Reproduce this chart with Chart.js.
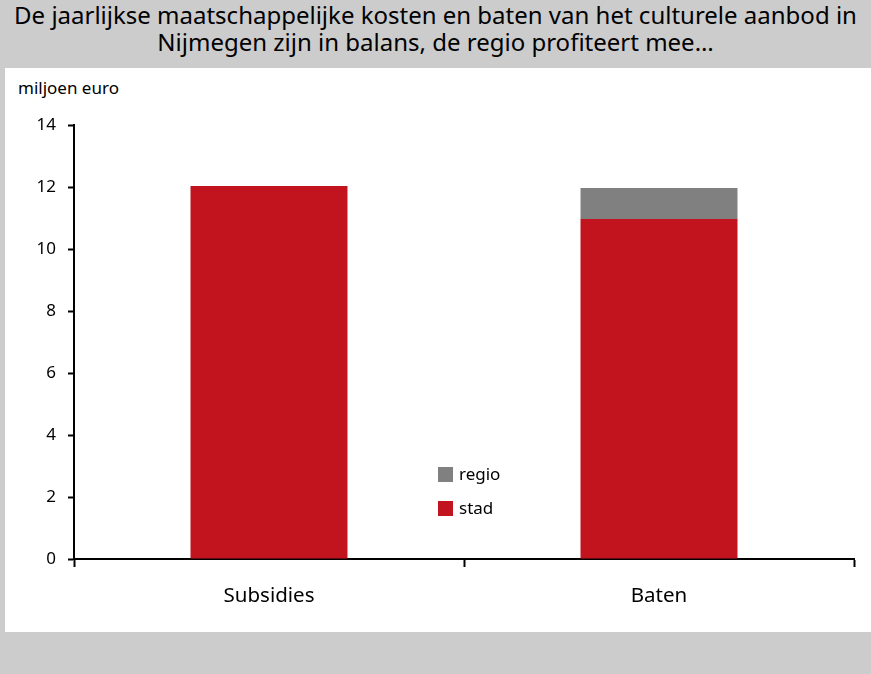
<!DOCTYPE html>
<html>
<head>
<meta charset="utf-8">
<script src="https://cdn.jsdelivr.net/npm/chart.js@4"></script>
<style>
  html, body { margin: 0; padding: 0; }
  body { width: 871px; height: 674px; background: #cccccc; position: relative; overflow: hidden; font-family: "Noto Sans", sans-serif; }
  #title { position: absolute; left: 0; top: 1px; width: 871px; text-align: center; font-size: 24px; line-height: 27px; color: #000; white-space: nowrap; }
  #panel { position: absolute; left: 5px; top: 68px; width: 866px; height: 564px; background: #fff; }
  #unit { position: absolute; left: 13px; top: 8px; font-size: 17px; color: #000; }
  #myChart { position: absolute; left: 0; top: 0; }
</style>
</head>
<body>
<div id="title">De jaarlijkse maatschappelijke kosten en baten van het culturele aanbod in<br>Nijmegen zijn in balans, de regio profiteert mee…</div>
<div id="panel">
  <div id="unit">miljoen euro</div>
  <canvas id="myChart" width="866" height="564"></canvas>
</div>
<script>
const categories = ['Subsidies', 'Baten'];
const stadValues = [12.03, 10.97];
const regioValues = [0, 1.0];
const seriesNames = ['stad', 'regio'];
const yTicks = [0, 2, 4, 6, 8, 10, 12, 14];

const red = '#c1141f';
const grey = '#808080';
const fontFamily = '"Noto Sans", sans-serif';

// legend drawn inside the plot, regio on top like the original
const innerLegend = {
  id: 'innerLegend',
  afterDraw(chart) {
    const ctx = chart.ctx;
    const items = chart.data.datasets.slice().reverse();
    const x = 433;
    let y = 399;
    ctx.save();
    ctx.font = '17px ' + fontFamily;
    ctx.textBaseline = 'middle';
    items.forEach(ds => {
      ctx.fillStyle = ds.backgroundColor;
      ctx.fillRect(x, y, 15, 15);
      ctx.fillStyle = '#000';
      ctx.fillText(ds.label, x + 21, y + 8);
      y += 34;
    });
    ctx.restore();
  }
};

const data = {
  labels: categories,
  datasets: [
    { label: seriesNames[0], data: stadValues, backgroundColor: red, borderWidth: 0 },
    { label: seriesNames[1], data: regioValues, backgroundColor: grey, borderWidth: 0 }
  ]
};

const config = {
  type: 'bar',
  data,
  options: {
    responsive: false,
    devicePixelRatio: 1,
    animation: false,
    layout: { padding: { left: 0, right: 17, top: 57, bottom: 0 } },
    datasets: { bar: { barPercentage: 0.5, categoryPercentage: 0.805 } },
    plugins: { legend: { display: false }, tooltip: { enabled: false } },
    scales: {
      x: {
        stacked: true,
        border: { color: '#000', width: 2 },
        grid: { drawOnChartArea: false, tickLength: 8, tickColor: '#000', tickWidth: 2 },
        ticks: { color: '#000', font: { family: fontFamily, size: 20.5 }, padding: 17 },
        afterFit(scale) { scale.height = 73; }
      },
      y: {
        stacked: true,
        min: 0,
        max: 14,
        afterBuildTicks(scale) { scale.ticks = yTicks.map(v => ({ value: v })); },
        border: { color: '#000', width: 2 },
        grid: { drawOnChartArea: false, tickLength: 6, tickColor: '#000', tickWidth: 2 },
        ticks: { color: '#000', font: { family: fontFamily, size: 17 }, padding: 12 },
        afterFit(scale) { scale.width = 69; }
      }
    }
  },
  plugins: [innerLegend]
};

const myChart = new Chart(document.getElementById('myChart'), config);
</script>
</body>
</html>
